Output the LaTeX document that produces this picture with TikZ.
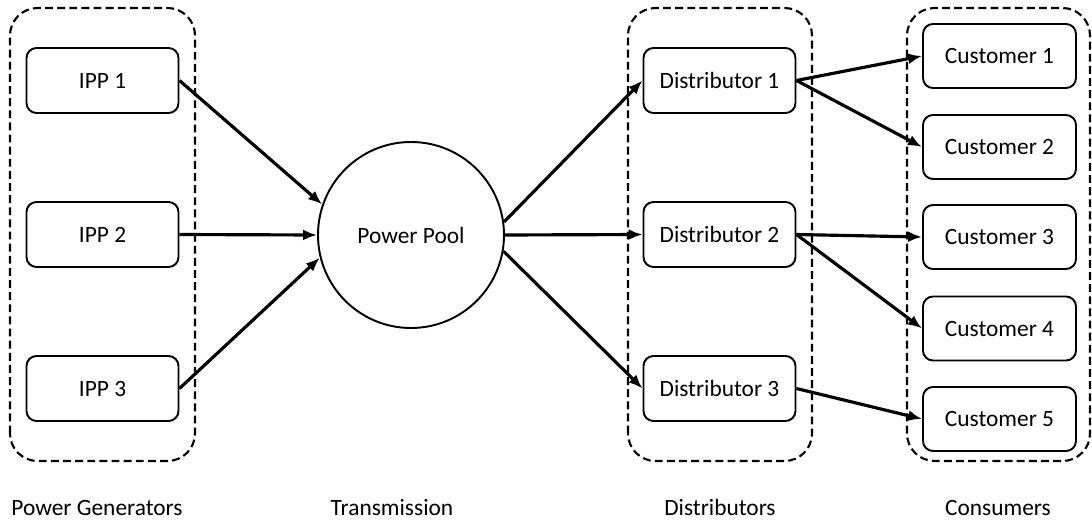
\documentclass[tikz,border=0pt]{standalone}
\usepackage{fontspec}
\setmainfont{Carlito}
\usetikzlibrary{arrows.meta,positioning}
\tikzset{
  unit/.style={
    shape = rectangle,
    rounded corners = 0.2cm,
    draw,
    line width = 1.1pt,
    minimum width = 3.04cm,
    minimum height = 1.3cm,
    font = \fontsize{13.3}{15}\selectfont
  },
  customer/.style={
    unit,
    minimum width = 3.06cm,
    minimum height = 1.28cm
  },
  pool/.style={
    shape = circle,
    draw,
    line width = 1.1pt,
    minimum size = 3.72cm,
    font = \fontsize{13.3}{15}\selectfont
  },
  group/.style={
    draw,
    dashed,
    dash pattern = on 4.5pt off 2.4pt,
    line width = 1.2pt,
    rounded corners = 0.55cm
  },
  caption/.style={
    anchor = base,
    font = \fontsize{13.3}{15}\selectfont
  },
  flow/.style={
    -{Latex[length=0.28cm,width=0.22cm]},
    line width = 1.8pt
  }
}
\begin{document}
\begin{tikzpicture}
    \useasboundingbox (0,0) rectangle (21.84,10.38);

    % groups
    \draw[group] (0.2,1.16) rectangle (3.9,10.22);
    \draw[group] (12.56,1.16) rectangle (16.24,10.22);
    \draw[group] (18.14,1.16) rectangle (21.8,10.22);

    % generators
    \node[unit] (ipp1) at (2.05,8.77) {IPP 1};
    \node[unit] (ipp2) at (2.05,5.69) {IPP 2};
    \node[unit] (ipp3) at (2.05,2.61) {IPP 3};

    % transmission
    \node[pool] (pool) at (8.22,5.68) {Power Pool};

    % distributors
    \node[unit] (dist1) at (14.39,8.77) {Distributor 1};
    \node[unit] (dist2) at (14.39,5.69) {Distributor 2};
    \node[unit] (dist3) at (14.39,2.61) {Distributor 3};

    % consumers
    \node[customer] (cust1) at (19.99,9.26) {Customer 1};
    \node[customer] (cust2) at (19.99,7.44) {Customer 2};
    \node[customer] (cust3) at (19.99,5.64) {Customer 3};
    \node[customer] (cust4) at (19.99,3.81) {Customer 4};
    \node[customer] (cust5) at (19.99,2.00) {Customer 5};

    % flows
    \draw[flow] (ipp1.east) -- (pool.161);
    \draw[flow] (ipp2.east) -- (pool.west);
    \draw[flow] (ipp3.east) -- (pool.194);
    \draw[flow] (pool.8) -- (dist1.west);
    \draw[flow] (pool.east) -- (dist2.west);
    \draw[flow] (pool.-10) -- (dist3.west);
    \draw[flow] (dist1.east) -- (cust1.west);
    \draw[flow] (dist1.east) -- (cust2.west);
    \draw[flow] (dist2.east) -- (cust3.west);
    \draw[flow] (dist2.east) -- (cust4.west);
    \draw[flow] (dist3.east) -- (cust5.west);

    % captions
    \node[caption] (capgen) at (1.94,0.08) {Power Generators};
    \node[caption] (captrans) at (7.84,0.08) {Transmission};
    \node[caption] (capdist) at (14.4,0.08) {Distributors};
    \node[caption] (capcons) at (19.96,0.08) {Consumers};
\end{tikzpicture}
\end{document}
